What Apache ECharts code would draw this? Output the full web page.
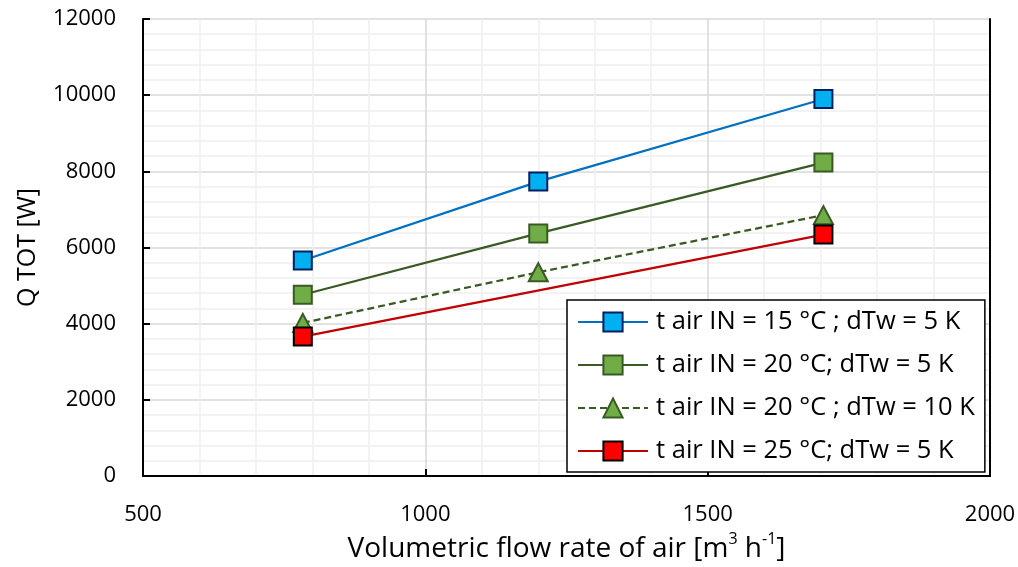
<!DOCTYPE html>
<html>
<head>
<meta charset="utf-8">
<script src="https://cdn.jsdelivr.net/npm/echarts@6/dist/echarts.min.js"></script>
<style>
  html, body { margin: 0; padding: 0; background: #fff; }
  #chart { width: 1018px; height: 567px; }
</style>
</head>
<body>
<div id="chart"></div>
<script>
// Volumetric flow rate of air [m3/h] at each measured point
const flow15 = [783, 1200, 1705];
const flow20 = [783, 1200, 1705];
const flow20dT10 = [783, 1200, 1705];
const flow25 = [783, 1705];

// Total heat output Q TOT [W]
const qTot15 = [5660, 7730, 9900];
const qTot20 = [4760, 6370, 8230];
const qTot20dT10 = [4020, 5350, 6850];
const qTot25 = [3660, 6340];

const seriesNames = [
  't air IN = 15 °C ; dTw = 5 K',
  't air IN = 20 °C; dTw = 5 K',
  't air IN = 20 °C ; dTw = 10 K',
  't air IN = 25 °C; dTw = 5 K'
];

const xTicks = { min: 500, max: 2000, interval: 500 };
const yTicks = { min: 0, max: 12000, interval: 2000 };

const FONT = 'Open Sans';
const FRAME = { show: true, lineStyle: { color: '#000', width: 2 } };

function pairs(xs, ys) { return xs.map((x, i) => [x, ys[i]]); }

// Plain axis used only to close the plot frame on the top and right sides
function frameAxis(position, range) {
  return {
    type: 'value', position,
    min: range.min, max: range.max, interval: range.interval,
    axisLine: FRAME, axisTick: { show: false }, axisLabel: { show: false },
    splitLine: { show: false }, minorSplitLine: { show: false },
    z: 1
  };
}

const chart = echarts.init(document.getElementById('chart'), null, { renderer: 'canvas' });

chart.setOption({
  animation: false,
  backgroundColor: '#ffffff',
  textStyle: { fontFamily: FONT, color: '#000' },
  grid: {
    left: 143, top: 19, width: 847, height: 457,
    containLabel: false,
    outerBoundsMode: 'none',
    show: false
  },
  xAxis: [{
    type: 'value', position: 'bottom',
    min: xTicks.min, max: xTicks.max, interval: xTicks.interval,
    name: '{t|Volumetric flow rate of air [m}{s|3}{t| h}{s|-1}{t|]}',
    nameLocation: 'middle', nameGap: 55,
    nameTextStyle: {
      rich: {
        t: { fontFamily: FONT, fontSize: 28, color: '#000', verticalAlign: 'bottom', lineHeight: 32 },
        s: { fontFamily: FONT, fontSize: 16, color: '#000', verticalAlign: 'top', lineHeight: 32, padding: [0, 0, 12, 0] }
      }
    },
    axisLine: FRAME,
    axisTick: { show: true, inside: true, length: 7, lineStyle: { color: '#000', width: 2 } },
    minorTick: { show: false, splitNumber: 5 },
    axisLabel: {
      fontFamily: FONT, fontSize: 22, color: '#000', margin: 28,
      formatter: v => String(v)
    },
    splitLine: { show: true, lineStyle: { color: '#d9d9d9', width: 1.5 } },
    minorSplitLine: { show: true, lineStyle: { color: '#f0f0f0', width: 1.5 } }
  }, frameAxis('top', xTicks)],
  yAxis: [{
    type: 'value', position: 'left',
    min: yTicks.min, max: yTicks.max, interval: yTicks.interval,
    name: 'Q TOT [W]',
    nameLocation: 'middle', nameGap: 103, nameRotate: 90,
    nameTextStyle: { fontFamily: FONT, fontSize: 25, color: '#000' },
    axisLine: FRAME,
    axisTick: { show: true, inside: true, length: 7, lineStyle: { color: '#000', width: 2 } },
    minorTick: { show: false, splitNumber: 5 },
    axisLabel: {
      fontFamily: FONT, fontSize: 22, color: '#000', margin: 27,
      formatter: v => String(v)
    },
    splitLine: { show: true, lineStyle: { color: '#d9d9d9', width: 1.5 } },
    minorSplitLine: { show: true, lineStyle: { color: '#f0f0f0', width: 1.5 } }
  }, frameAxis('right', yTicks)],
  legend: {
    orient: 'vertical',
    left: 567, top: 300,
    padding: [9, 10, 8, 10],
    itemWidth: 70, itemHeight: 24, itemGap: 17,
    backgroundColor: '#ffffff',
    borderColor: '#000', borderWidth: 1.5, borderRadius: 0,
    textStyle: { fontFamily: FONT, fontSize: 25.5, lineHeight: 26, color: '#000', padding: [0, 0, 0, 3] },
    data: seriesNames,
    z: 20
  },
  series: [
    {
      name: seriesNames[0], type: 'line',
      data: pairs(flow15, qTot15),
      symbol: 'rect', symbolSize: 18,
      lineStyle: { color: '#0070c0', width: 2.25 },
      itemStyle: { color: '#00b0f0', borderColor: '#002060', borderWidth: 2 },
      z: 6
    },
    {
      name: seriesNames[1], type: 'line',
      data: pairs(flow20, qTot20),
      symbol: 'rect', symbolSize: 18,
      lineStyle: { color: '#3a5a24', width: 2.25 },
      itemStyle: { color: '#70ad47', borderColor: '#3a5a24', borderWidth: 2 },
      z: 5
    },
    {
      name: seriesNames[2], type: 'line',
      data: pairs(flow20dT10, qTot20dT10),
      symbol: 'triangle', symbolSize: [19, 18],
      lineStyle: { color: '#3a5a24', width: 2.25, type: [7, 4] },
      itemStyle: { color: '#70ad47', borderColor: '#3a5a24', borderWidth: 2 },
      z: 4
    },
    {
      name: seriesNames[3], type: 'line',
      data: pairs(flow25, qTot25),
      symbol: 'rect', symbolSize: 18,
      lineStyle: { color: '#c00000', width: 2.25 },
      itemStyle: { color: '#ff0000', borderColor: '#000000', borderWidth: 2 },
      z: 7
    }
  ]
});
</script>
</body>
</html>
